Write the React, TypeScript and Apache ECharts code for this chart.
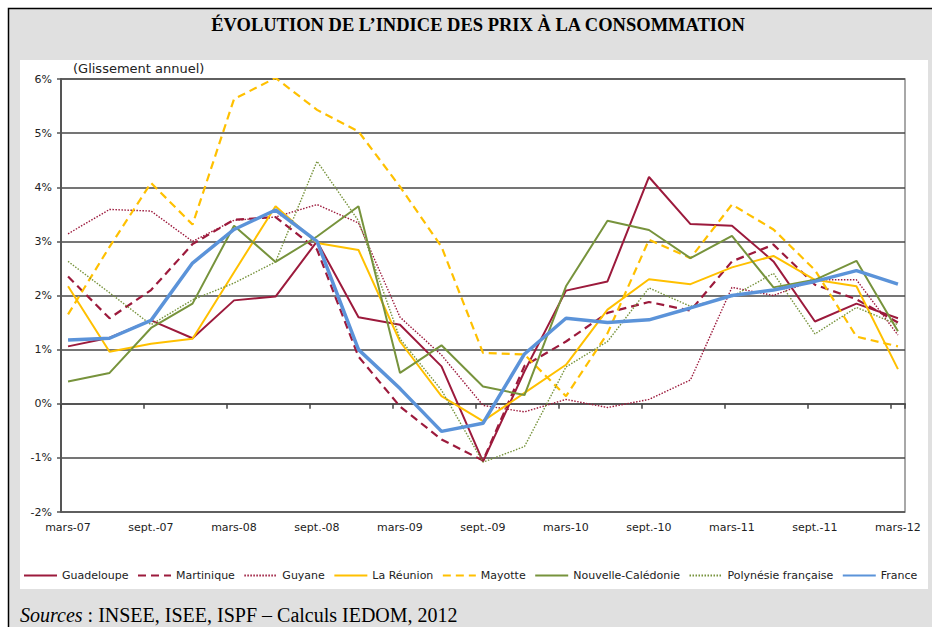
import React, { useEffect, useRef } from "react";
import * as echarts from "echarts";

const quarters = [
  "mars-07", "juin-07", "sept.-07", "déc.-07",
  "mars-08", "juin-08", "sept.-08", "déc.-08",
  "mars-09", "juin-09", "sept.-09", "déc.-09",
  "mars-10", "juin-10", "sept.-10", "déc.-10",
  "mars-11", "juin-11", "sept.-11", "déc.-11",
  "mars-12",
];

const guadeloupe = [1.06, 1.22, 1.54, 1.21, 1.91, 1.98, 3.0, 1.6, 1.46, 0.69, -1.07, 0.6, 2.09, 2.26, 4.19, 3.32, 3.29, 2.63, 1.52, 1.85, 1.58];
const martinique = [2.35, 1.58, 2.1, 2.95, 3.4, 3.45, 2.85, 0.87, -0.05, -0.66, -1.05, 0.7, 1.15, 1.68, 1.88, 1.72, 2.63, 2.94, 2.2, 1.93, 1.5];
const guyane = [3.14, 3.59, 3.56, 3.0, 3.39, 3.45, 3.68, 3.34, 1.6, 0.9, -0.03, -0.15, 0.08, -0.07, 0.08, 0.44, 2.15, 2.0, 2.29, 2.29, 1.27];
const reunion = [2.17, 0.96, 1.11, 1.2, 2.43, 3.65, 2.97, 2.84, 1.15, 0.14, -0.32, 0.2, 0.72, 1.74, 2.3, 2.21, 2.52, 2.73, 2.29, 2.17, 0.64];
const mayotte = [1.65, 2.9, 4.08, 3.31, 5.63, 6.02, 5.43, 5.03, 4.01, 2.9, 0.94, 0.91, 0.14, 1.3, 3.03, 2.69, 3.68, 3.22, 2.47, 1.24, 1.06];
const caledonie = [0.41, 0.57, 1.4, 1.85, 3.29, 2.62, 3.09, 3.65, 0.57, 1.08, 0.32, 0.16, 2.17, 3.38, 3.21, 2.69, 3.1, 2.15, 2.29, 2.64, 1.34];
const polynesie = [2.63, 2.05, 1.46, 1.92, 2.23, 2.62, 4.48, 3.38, 1.2, 0.25, -1.08, -0.79, 0.68, 1.15, 2.14, 1.8, 1.98, 2.41, 1.29, 1.78, 1.46];
const france = [1.18, 1.21, 1.54, 2.6, 3.22, 3.58, 3.0, 1.0, 0.28, -0.51, -0.36, 0.92, 1.58, 1.5, 1.55, 1.77, 2.0, 2.1, 2.26, 2.46, 2.21];

const seriesNames = [
  "Guadeloupe", "Martinique", "Guyane", "La Réunion",
  "Mayotte", "Nouvelle-Calédonie", "Polynésie française", "France",
];

const TITLE = "ÉVOLUTION DE L’INDICE DES PRIX À LA CONSOMMATION";
const UNIT = "(Glissement annuel)";
const SOURCE = "{i|Sources} : INSEE, ISEE, ISPF – Calculs IEDOM, 2012";

const FONT = "'DejaVu Sans', Verdana, sans-serif";
const SERIF = "'Liberation Serif', 'Times New Roman', serif";
const RED = "#9c1a3c";
const YEL = "#ffc000";
const GRN = "#77933c";
const BLU = "#5b93d9";

const X_PAD = 0.17;

export default function App() {
  const ref = useRef<HTMLDivElement>(null);

  useEffect(() => {
    if (!ref.current) return;
    const chart = echarts.init(ref.current, undefined, { renderer: "svg" });
    const toData = (arr: number[]) => arr.map((v, i) => [i, v]);
    const styles = [
      { color: RED, width: 2, type: "solid" },
      { color: RED, width: 2.2, type: [8, 5] },
      { color: RED, width: 1.4, type: [1.5, 1.5] },
      { color: YEL, width: 2, type: "solid" },
      { color: YEL, width: 2.2, type: [8, 5] },
      { color: GRN, width: 2, type: "solid" },
      { color: GRN, width: 1.4, type: [1.5, 1.5] },
      { color: BLU, width: 3.5, type: "solid" },
    ];
    const datasets = [guadeloupe, martinique, guyane, reunion, mayotte, caledonie, polynesie, france];

    chart.setOption({
      animation: false,
      graphic: [
        {
          type: "rect",
          z: -10,
          shape: { x: 8.5, y: 8.5, width: 940, height: 640 },
          style: { fill: "#e0e0e0", stroke: "#000", lineWidth: 1.5 },
        },
        {
          type: "rect",
          z: -9,
          shape: { x: 20, y: 60, width: 908, height: 529 },
          style: { fill: "#ffffff" },
        },
        {
          type: "text",
          x: 478,
          y: 25,
          style: {
            text: TITLE,
            fontFamily: SERIF,
            fontWeight: "bold",
            fontSize: 18.5,
            fill: "#000",
            textAlign: "center",
            textVerticalAlign: "middle",
          },
        },
        {
          type: "text",
          x: 73,
          y: 68,
          style: {
            text: UNIT,
            fontFamily: FONT,
            fontSize: 13,
            fill: "#222",
            textAlign: "left",
            textVerticalAlign: "middle",
          },
        },
        {
          type: "text",
          x: 20,
          y: 615,
          style: {
            text: SOURCE,
            fontFamily: SERIF,
            fontSize: 20,
            fill: "#000",
            textAlign: "left",
            textVerticalAlign: "middle",
            rich: {
              i: { fontStyle: "italic", fontFamily: SERIF, fontSize: 20, fill: "#000" },
            },
          },
        },
      ],
      legend: {
        data: seriesNames,
        left: 18,
        top: 565,
        width: 910,
        itemWidth: 33,
        itemHeight: 12,
        itemGap: 8.5,
        itemStyle: { opacity: 0 },
        textStyle: { fontFamily: FONT, fontSize: 11, color: "#222" },
      },
      grid: {
        left: 61,
        right: 27,
        top: 79,
        bottom: 115,
        show: true,
        borderColor: "#8c8c8c",
        borderWidth: 1.5,
        backgroundColor: "transparent",
      },
      xAxis: [
        {
          type: "value",
          min: -X_PAD,
          max: quarters.length - 1 + X_PAD,
          interval: 2,
          position: "bottom",
          axisLine: { show: false, onZero: false },
          axisTick: { show: false },
          splitLine: { show: false },
          axisLabel: {
            showMaxLabel: false,
            margin: 10,
            padding: [0, 0, 0, 14],
            fontFamily: FONT,
            fontSize: 11,
            color: "#222",
            formatter: (v: number) => quarters[Math.round(v + X_PAD)] ?? "",
          },
        },
        {
          type: "value",
          min: -X_PAD,
          max: quarters.length - 1 + X_PAD,
          interval: 2,
          position: "bottom",
          axisLine: { show: true, onZero: true, lineStyle: { color: "#555", width: 2 } },
          axisTick: { show: true, length: 5, lineStyle: { color: "#444", width: 1.5 } },
          axisLabel: { show: false },
          splitLine: { show: false },
        },
      ],
      yAxis: {
        type: "value",
        min: -2,
        max: 6,
        interval: 1,
        axisLine: { show: true, onZero: false, lineStyle: { color: "#555", width: 2 } },
        axisTick: { show: true, length: 4, lineStyle: { color: "#555", width: 1.5 } },
        axisLabel: {
          margin: 9,
          fontFamily: FONT,
          fontSize: 11,
          color: "#222",
          formatter: (v: number) => `${v}%`,
        },
        splitLine: { lineStyle: { color: "#474747", width: 1.5 } },
      },
      series: seriesNames.map((name, k) => ({
        name,
        type: "line",
        xAxisIndex: 0,
        data: toData(datasets[k]),
        symbol: "none",
        showSymbol: false,
        color: styles[k].color,
        lineStyle: { color: styles[k].color, width: styles[k].width, type: styles[k].type },
        itemStyle: { color: styles[k].color },
        z: k === 7 ? 5 : 2,
      })),
    });
    return () => chart.dispose();
  }, []);

  return (
    <div
      ref={ref}
      style={{ position: "absolute", left: 0, top: 0, width: 932, height: 627 }}
    />
  );
}
